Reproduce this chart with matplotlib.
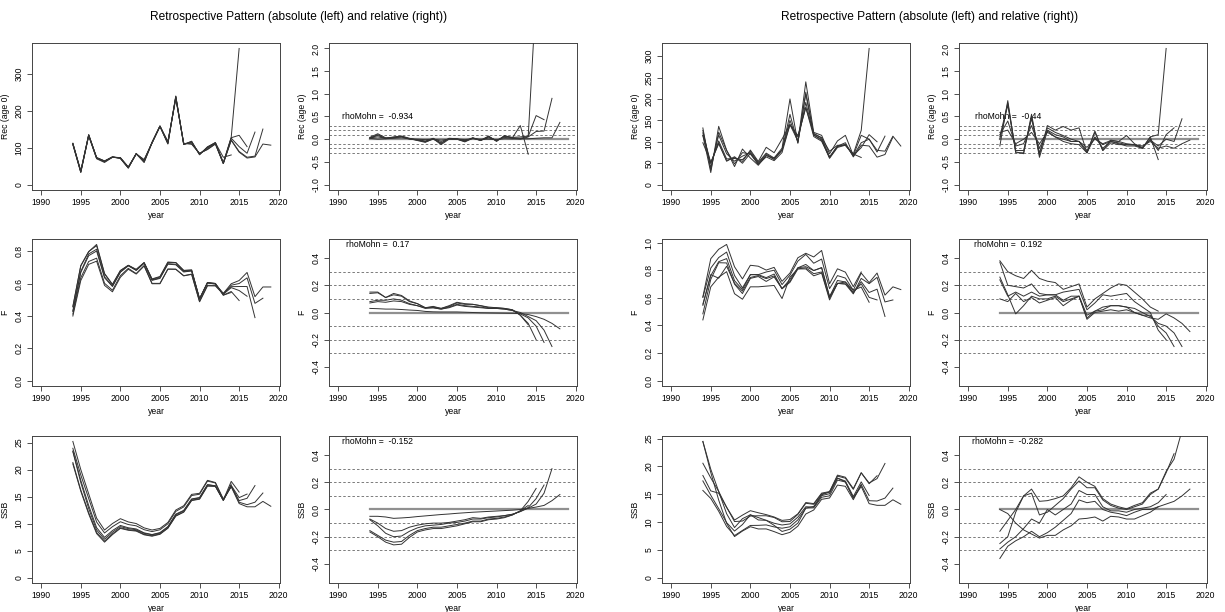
import matplotlib
matplotlib.use('Agg')
import matplotlib.pyplot as plt

plt.rcParams['font.family'] = ['Liberation Sans', 'DejaVu Sans']
plt.rcParams['axes.unicode_minus'] = False

years = list(range(1994, 2020))
title = 'Retrospective Pattern (absolute (left) and relative (right))'

# left block: base run (terminal year 2019) and relative peels 2018..2014
rec_a_base = [108, 33, 132, 70, 60, 74, 73, 48, 83, 68, 113, 158, 117, 233, 112, 110,
              85, 95, 110, 57, 120, 88, 72, 75, 110, 107]
rec_a_rel = [
    [0.02, 0.0, 0.01, 0.02, 0.03, 0.01, 0.0, -0.01, 0.0, -0.02, 0.0, 0.005, -0.01, 0.01,
     0.0, 0.0, -0.01, 0.01, 0.005, 0.01, 0.01, 0.02, 0.03, 0.03, 0.37],
    [0.03, 0.05, 0.02, 0.03, 0.05, 0.0, -0.01, -0.04, 0.01, -0.05, 0.01, 0.0, -0.03, 0.02,
     -0.02, 0.03, -0.02, 0.04, 0.02, 0.0, 0.05, 0.17, 0.18, 0.9],
    [0.04, 0.12, 0.03, 0.04, 0.06, 0.01, -0.02, -0.06, 0.0, -0.08, 0.01, 0.0, -0.05, 0.03,
     -0.03, 0.05, -0.03, 0.06, 0.03, 0.02, 0.06, 0.52, 0.43],
    [0.03, 0.08, 0.02, 0.05, 0.07, 0.02, -0.02, -0.05, 0.02, -0.1, 0.02, 0.01, -0.04, 0.03,
     -0.02, 0.06, -0.04, 0.07, 0.04, 0.05, 0.07, 3.2],
    [0.02, 0.1, 0.01, 0.04, 0.06, 0.01, -0.03, -0.07, 0.01, -0.12, 0.0, 0.0, -0.06, 0.02,
     -0.03, 0.07, -0.05, 0.08, 0.03, 0.3, -0.33],
]
f_a_base = [0.40, 0.62, 0.72, 0.74, 0.59, 0.55, 0.64, 0.69, 0.66, 0.71, 0.60, 0.60, 0.69,
            0.69, 0.65, 0.66, 0.49, 0.59, 0.59, 0.54, 0.60, 0.62, 0.67, 0.52, 0.58, 0.58]
f_a_rel = [
    [0.03, 0.028, 0.025, 0.025, 0.022, 0.018, 0.015, 0.008, 0.005, 0.004, 0.004, 0.004,
     0.002, 0.0, -0.002, -0.003, -0.004, -0.005, -0.006, -0.008, -0.015, -0.03, -0.05,
     -0.08, -0.12],
    [0.07, 0.08, 0.075, 0.085, 0.08, 0.06, 0.05, 0.03, 0.035, 0.025, 0.035, 0.055, 0.045,
     0.04, 0.035, 0.03, 0.03, 0.025, 0.015, 0.0, -0.03, -0.06, -0.13, -0.25],
    [0.08, 0.09, 0.09, 0.1, 0.09, 0.065, 0.05, 0.035, 0.035, 0.025, 0.04, 0.06, 0.05, 0.045,
     0.04, 0.03, 0.03, 0.025, 0.015, -0.01, -0.04, -0.1, -0.22],
    [0.14, 0.145, 0.11, 0.13, 0.12, 0.08, 0.065, 0.035, 0.04, 0.03, 0.045, 0.07, 0.06, 0.06,
     0.05, 0.035, 0.035, 0.03, 0.02, -0.02, -0.08, -0.2],
    [0.15, 0.15, 0.11, 0.14, 0.125, 0.085, 0.065, 0.035, 0.045, 0.03, 0.05, 0.075, 0.065,
     0.06, 0.05, 0.04, 0.035, 0.03, 0.02, -0.02, -0.09],
]
ssb_a_base = [25.2, 20.0, 15.5, 11.0, 8.8, 10.0, 10.9, 10.3, 10.0, 9.2, 8.8, 9.1, 10.2,
              12.5, 13.3, 15.4, 15.6, 18.0, 17.6, 14.5, 16.8, 13.7, 13.1, 13.1, 14.1, 13.2]
ssb_a_rel = [
    [-0.05, -0.05, -0.055, -0.065, -0.062, -0.058, -0.052, -0.047, -0.042, -0.037, -0.033,
     -0.028, -0.024, -0.02, -0.017, -0.014, -0.011, -0.008, -0.005, 0.0, 0.008, 0.018, 0.03,
     0.065, 0.11],
    [-0.07, -0.1, -0.14, -0.16, -0.155, -0.13, -0.115, -0.105, -0.1, -0.1, -0.095, -0.085,
     -0.075, -0.06, -0.065, -0.055, -0.05, -0.045, -0.035, -0.015, 0.01, 0.04, 0.12, 0.3],
    [-0.075, -0.12, -0.175, -0.2, -0.195, -0.16, -0.135, -0.12, -0.115, -0.11, -0.1, -0.095,
     -0.085, -0.07, -0.07, -0.06, -0.055, -0.045, -0.035, -0.015, 0.015, 0.08, 0.18],
    [-0.155, -0.19, -0.225, -0.24, -0.235, -0.19, -0.155, -0.14, -0.13, -0.13, -0.12, -0.11,
     -0.1, -0.085, -0.085, -0.07, -0.065, -0.055, -0.04, -0.01, 0.06, 0.155],
    [-0.165, -0.2, -0.24, -0.26, -0.255, -0.205, -0.165, -0.15, -0.14, -0.14, -0.13, -0.12,
     -0.105, -0.09, -0.09, -0.075, -0.07, -0.06, -0.04, -0.01, 0.03],
]
rho_a = [-0.934, 0.17, -0.152]

# right block
rec_b_base = [115, 28, 136, 80, 42, 83, 62, 45, 68, 62, 85, 200, 97, 240, 122, 115, 72,
              102, 115, 68, 115, 106, 80, 78, 113, 90]
rec_b_rel = [
    [0.15, 0.2, -0.1, 0.0, 0.15, -0.1, 0.15, 0.05, 0.0, -0.05, -0.05, -0.18, 0.0, -0.1,
     -0.03, -0.05, -0.1, -0.12, -0.15, -0.05, -0.2, -0.15, -0.2, -0.1, -0.02],
    [0.1, 0.4, -0.15, -0.1, 0.3, -0.2, 0.2, 0.1, 0.05, -0.05, -0.05, -0.25, 0.03, -0.12,
     -0.05, -0.08, -0.12, -0.13, -0.18, -0.02, -0.15, 0.0, -0.05, 0.45],
    [0.0, 0.75, -0.25, -0.25, 0.45, -0.3, 0.25, 0.15, 0.08, 0.0, -0.05, -0.3, 0.05, -0.2,
     -0.05, -0.1, -0.15, -0.15, -0.2, 0.0, -0.25, 0.1, 0.25],
    [-0.15, 0.85, -0.3, -0.3, 0.5, -0.35, 0.3, 0.2, 0.28, 0.2, 0.25, -0.3, 0.18, -0.25,
     -0.02, -0.05, 0.08, -0.1, -0.2, 0.05, 0.1, 2.0],
    [0.05, 0.8, -0.28, -0.32, 0.55, -0.4, 0.18, 0.05, -0.05, -0.1, -0.12, -0.3, 0.15, -0.25,
     -0.08, -0.12, -0.12, -0.12, -0.2, 0.05, -0.45],
]
f_b_base = [0.44, 0.68, 0.75, 0.79, 0.63, 0.59, 0.68, 0.68, 0.685, 0.69, 0.595, 0.75, 0.81,
            0.81, 0.76, 0.78, 0.585, 0.705, 0.715, 0.655, 0.78, 0.71, 0.78, 0.62, 0.68, 0.66]
f_b_rel = [
    [0.1, 0.08, 0.14, 0.08, 0.11, 0.07, 0.09, 0.11, 0.05, 0.09, 0.12, -0.05, 0.0, 0.01, 0.02,
     0.01, 0.02, 0.0, -0.02, -0.04, -0.05, -0.01, -0.04, -0.08, -0.14],
    [0.26, 0.13, -0.01, 0.05, 0.12, 0.1, 0.1, 0.12, 0.08, 0.1, 0.12, -0.04, 0.01, 0.02, 0.05,
     0.05, 0.04, 0.03, 0.0, -0.03, -0.08, -0.1, -0.15, -0.25],
    [0.24, 0.12, 0.15, 0.12, 0.15, 0.12, 0.13, 0.13, 0.09, 0.12, 0.12, -0.02, 0.01, 0.04,
     0.05, 0.05, 0.04, 0.0, -0.02, -0.02, -0.1, -0.15, -0.25],
    [0.37, 0.2, 0.19, 0.18, 0.21, 0.14, 0.13, 0.13, 0.15, 0.16, 0.17, 0.02, 0.07, 0.13, 0.12,
     0.13, 0.14, 0.08, 0.04, 0.0, -0.13, -0.2],
    [0.38, 0.3, 0.27, 0.25, 0.31, 0.25, 0.23, 0.22, 0.17, 0.19, 0.21, 0.04, 0.1, 0.14, 0.18,
     0.21, 0.2, 0.15, 0.1, 0.04, 0.01],
]
ssb_b_base = [24.5, 19.5, 15.5, 11.5, 9.0, 10.6, 11.3, 10.8, 10.3, 9.4, 8.3, 8.7, 9.8, 12.5,
              12.8, 14.9, 15.4, 17.9, 17.2, 14.3, 16.4, 13.3, 13.0, 13.0, 14.0, 13.2]
ssb_b_rel = [
    [0.0, -0.03, -0.1, -0.15, -0.18, -0.21, -0.19, -0.19, -0.15, -0.12, -0.07, -0.065,
     -0.055, -0.085, -0.05, -0.055, -0.07, -0.07, -0.045, -0.02, 0.02, 0.04, 0.06, 0.1, 0.15],
    [-0.25, -0.2, -0.02, 0.1, 0.15, 0.06, 0.065, 0.08, 0.1, 0.16, 0.24, 0.2, 0.17, 0.08, 0.04,
     0.02, 0.005, 0.03, 0.05, 0.12, 0.15, 0.28, 0.37, 0.58],
    [-0.16, -0.08, 0.0, 0.1, 0.12, -0.04, -0.02, 0.03, 0.08, 0.15, 0.21, 0.16, 0.16, 0.07,
     0.03, 0.01, 0.0, 0.02, 0.04, 0.11, 0.15, 0.27, 0.41],
    [-0.29, -0.24, -0.2, -0.14, -0.07, -0.1, 0.0, -0.04, 0.0, 0.04, 0.14, 0.11, 0.11, 0.02,
     -0.01, -0.01, -0.02, 0.0, 0.01, 0.02, 0.05, 0.11],
    [-0.36, -0.27, -0.23, -0.2, -0.16, -0.2, -0.17, -0.13, -0.08, -0.03, 0.07, 0.05, 0.06,
     0.0, -0.02, -0.03, -0.045, -0.02, 0.0, 0.0, 0.02],
]
rho_b = [-0.44, 0.192, -0.282]

ylabels = ['Rec (age 0)', 'F', 'SSB']

FIG_W, FIG_H = 1225, 612
col_left = [32, 329, 662, 959]
row_top = [43, 239, 436]
AX_W, AX_H = 248, 147
LINE = '#333333'
FS = 6.2

fig = plt.figure(figsize=(FIG_W / 100, FIG_H / 100), dpi=100)


def add_ax(col, row):
    return fig.add_axes([col_left[col] / FIG_W, 1 - (row_top[row] + AX_H) / FIG_H,
                         AX_W / FIG_W, AX_H / FIG_H])


def style(ax, label, yticks, fmt):
    ax.set_xlim(1988.84, 2020.16)
    ax.set_xticks(range(1990, 2021, 5))
    ax.set_yticks(yticks)
    ax.set_yticklabels([fmt.format(v) for v in yticks])
    plt.setp(ax.get_yticklabels(), rotation=90, va='center')
    ax.tick_params(direction='out', length=3.4, width=0.6, labelsize=FS, pad=2.6,
                   color='#333333')
    for sp in ax.spines.values():
        sp.set_linewidth(0.7)
        sp.set_color('#444444')
    ax.set_xlabel('year', fontsize=FS)
    ax.xaxis.set_label_coords(0.5, -0.145)
    ax.set_ylabel(label, fontsize=FS)
    ax.yaxis.set_label_coords(-0.09, 0.5)


def pair(col, row, base, rels, label, rho, abs_ticks, abs_fmt, rel_ticks, rel_lim):
    ax = add_ax(col, row)
    runs = [base] + [[b * (1 + r) for b, r in zip(base, rel)] for rel in rels]
    top = max(max(s) for s in runs)
    for s in runs:
        ax.plot(years[:len(s)], s, color=LINE, lw=0.7)
    ax.set_ylim(-0.04 * top, 1.04 * top)
    style(ax, label, abs_ticks, abs_fmt)

    ax = add_ax(col + 1, row)
    pad = 0.04 * (rel_lim[1] - rel_lim[0])
    ax.set_ylim(rel_lim[0] - pad, rel_lim[1] + pad)
    for v in (-0.3, -0.2, -0.1, 0.1, 0.2, 0.3):
        ax.axhline(v, color='#666666', lw=0.6, ls=(0, (3, 2.5)))
    ax.text(1995, 0.5, 'rhoMohn =  ' + str(rho), fontsize=FS, ha='center', va='center',
            zorder=1)
    ax.plot(years, [0] * len(years), color='#909090', lw=1.6, zorder=2)
    for rel in rels:
        ax.plot(years[:len(rel)], rel, color=LINE, lw=0.7, zorder=3)
    style(ax, label, rel_ticks, '{:.1f}')


rec_rel_ticks = [-1.0, -0.5, 0.0, 0.5, 1.0, 1.5, 2.0]
rel_ticks = [-0.4, -0.2, 0.0, 0.2, 0.4]

pair(0, 0, rec_a_base, rec_a_rel, ylabels[0], rho_a[0], [0, 100, 200, 300], '{:.0f}',
     rec_rel_ticks, (-1, 2))
pair(0, 1, f_a_base, f_a_rel, ylabels[1], rho_a[1], [0, 0.2, 0.4, 0.6, 0.8], '{:.1f}',
     rel_ticks, (-0.5, 0.5))
pair(0, 2, ssb_a_base, ssb_a_rel, ylabels[2], rho_a[2], [0, 5, 10, 15, 20, 25], '{:.0f}',
     rel_ticks, (-0.5, 0.5))
pair(2, 0, rec_b_base, rec_b_rel, ylabels[0], rho_b[0], list(range(0, 301, 50)), '{:.0f}',
     rec_rel_ticks, (-1, 2))
pair(2, 1, f_b_base, f_b_rel, ylabels[1], rho_b[1], [0, 0.2, 0.4, 0.6, 0.8, 1.0], '{:.1f}',
     rel_ticks, (-0.5, 0.5))
pair(2, 2, ssb_b_base, ssb_b_rel, ylabels[2], rho_b[2], [0, 5, 10, 15, 20, 25], '{:.0f}',
     rel_ticks, (-0.5, 0.5))

fig.text(298.7 / FIG_W, 1 - 17 / FIG_H, title, ha='center', va='center', fontsize=8.6)
fig.text(929.5 / FIG_W, 1 - 17 / FIG_H, title, ha='center', va='center', fontsize=8.6)

fig.savefig('out.png', dpi=100)
